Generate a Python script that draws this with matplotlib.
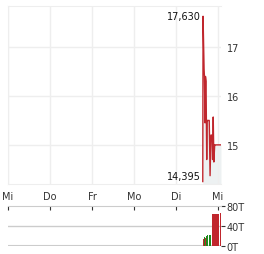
import numpy as np
import matplotlib
matplotlib.use("Agg")
import matplotlib.pyplot as plt

# day index: Mi=0 ... Mi=5
day_labels = ['Mi', 'Do', 'Fr', 'Mo', 'Di', 'Mi']
day_ticks = [0, 1, 2, 3, 4, 5]

# price (time in days, value)
px = [4.636, 4.643, 4.667, 4.676, 4.69, 4.70, 4.714, 4.73, 4.74, 4.75, 4.76, 4.774,
      4.79, 4.81, 4.83, 4.857, 4.87, 4.885, 4.90, 4.92, 4.93, 4.945, 4.96, 5.07]
py = [14.25, 17.63, 16.55, 16.40, 15.45, 16.40, 16.30, 14.70, 15.50, 15.50, 15.50, 15.50,
      15.50, 14.37, 15.20, 15.20, 14.70, 15.57, 14.65, 15.00, 15.00, 15.00, 15.00, 15.00]

# volume bars (time in days, value in T, up/down)
vx = [4.636, 4.667, 4.69, 4.714, 4.745, 4.776, 4.79, 4.864, 5.045]
vw = [0.024, 0.024, 0.02, 0.024, 0.024, 0.016, 0.033, 0.16, 0.02]
vy = [15, 18, 17, 21, 22, 20, 22, 65, 67]
vup = [False, True, False, True, True, False, True, False, False]

red = '#c0262d'
green = '#1e8a1e'
txt = '#333333'

fig = plt.figure(figsize=(2.64, 2.55), dpi=100)

ax = fig.add_axes([8/264, 70/255, 213/264, 178/255])
ax.set_xlim(0, 5.07)
ax.set_ylim(14.2, 17.84)
ax.fill_between(px, py, 14.2, color='#e9eeef', alpha=0.8, lw=0)
ax.plot(px, py, color=red, lw=1)
ax.set_xticks(day_ticks)
ax.set_xticklabels(day_labels, fontsize=7, color=txt)
ax.set_yticks([15, 16, 17])
ax.set_yticklabels(['15', '16', '17'], fontsize=7, color=txt)
ax.yaxis.tick_right()
ax.tick_params(length=0, pad=4)
ax.tick_params(axis='x', pad=5)
ax.grid(color='#eeeeee', lw=1)
for s in ['top', 'left', 'bottom']:
    ax.spines[s].set_color('#eeeeee')
ax.spines['right'].set_visible(False)
ax.text(4.6, max(py), '17,630', fontsize=7, color='#111111', ha='right', va='center')
ax.text(4.6, 14.37, '14,395', fontsize=7, color='#111111', ha='right', va='center')

vax = fig.add_axes([8/264, 8/255, 213/264, 40/255])
vax.set_xlim(0, 5.07)
vax.set_ylim(0, 80)
vcol = [green if u else red for u in vup]
vax.bar(vx, vy, width=vw, color=vcol, align='edge', lw=0)
vax.set_xticks(day_ticks)
vax.set_xticklabels([])
vax.xaxis.tick_top()
vax.tick_params(axis='x', direction='in', length=3, color=txt)
vax.set_yticks([0, 40, 80])
vax.set_yticklabels(['0T', '40T', '80T'], fontsize=7, color=txt)
vax.yaxis.tick_right()
vax.tick_params(axis='y', length=3, color=txt, pad=1)
vax.axhline(40, color='#cccccc', lw=1, zorder=0)
vax.axhline(0, color='#cccccc', lw=1.5, zorder=0)
vax.spines['top'].set_color('#cccccc')
for s in ['left', 'right', 'bottom']:
    vax.spines[s].set_visible(False)

fig.savefig('out.png', dpi=100)
